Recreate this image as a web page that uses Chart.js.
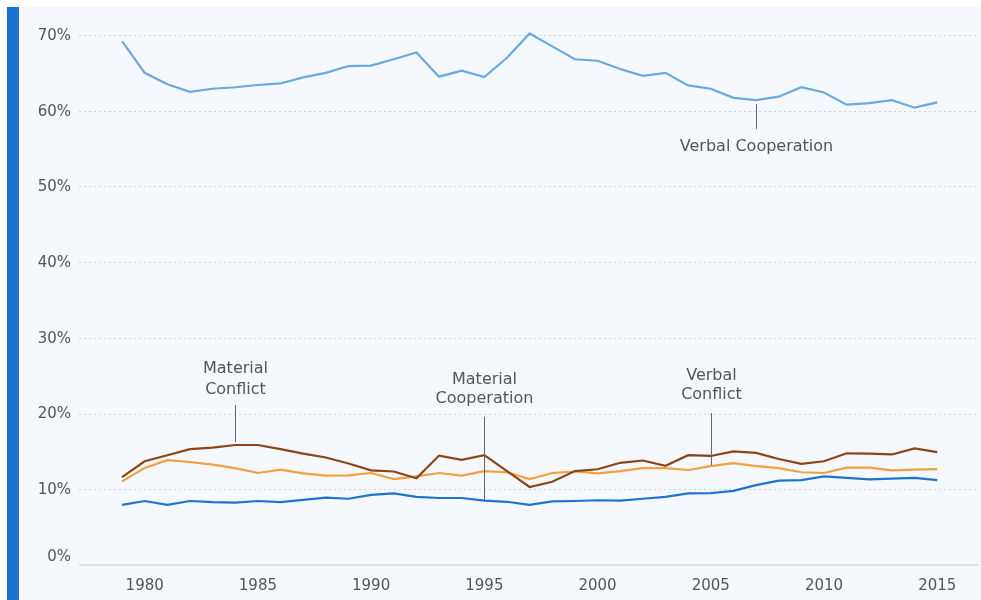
<!DOCTYPE html>
<html>
<head>
<meta charset="utf-8">
<script src="https://cdn.jsdelivr.net/npm/chart.js@4"></script>
<style>
  html, body { margin: 0; padding: 0; background: #fff; }
  #panel {
    position: absolute; left: 7px; top: 7px;
    width: 962px; height: 593px;
    background: #f5f8fc;
    border-left: 12px solid #1a73d0;
  }
</style>
</head>
<body>
<div id="panel"><canvas id="eventChart"></canvas></div>
<script>
const years = [];
for (let y = 1979; y <= 2015; y++) years.push(y);

// shares of events per year, in %
const verbalCooperation = [69.2, 65.0, 63.5, 62.5, 62.9, 63.1, 63.4, 63.6, 64.4, 65.0,
  65.9, 65.95, 66.8, 67.7, 64.5, 65.3, 64.45, 67.0, 70.2, 68.5,
  66.8, 66.6, 65.5, 64.6, 65.0, 63.35, 62.9, 61.7, 61.4, 61.85,
  63.1, 62.4, 60.8, 61.0, 61.4, 60.4, 61.1];
const materialConflict = [11.6, 13.7, 14.5, 15.3, 15.5, 15.85, 15.85, 15.3, 14.7, 14.2,
  13.4, 12.5, 12.35, 11.45, 14.45, 13.9, 14.5, 12.4, 10.3, 11.0,
  12.4, 12.65, 13.5, 13.8, 13.1, 14.5, 14.4, 15.0, 14.8, 14.0,
  13.35, 13.7, 14.75, 14.7, 14.6, 15.4, 14.9];
const verbalConflict = [11.05, 12.8, 13.85, 13.6, 13.25, 12.8, 12.15, 12.6, 12.1, 11.8,
  11.85, 12.15, 11.35, 11.7, 12.15, 11.8, 12.4, 12.25, 11.35, 12.15,
  12.35, 12.1, 12.4, 12.8, 12.8, 12.55, 13.05, 13.45, 13.05, 12.8,
  12.25, 12.15, 12.85, 12.85, 12.5, 12.6, 12.65];
const materialCooperation = [7.95, 8.45, 7.95, 8.45, 8.3, 8.25, 8.45, 8.3, 8.6, 8.9,
  8.75, 9.25, 9.45, 9.0, 8.85, 8.85, 8.5, 8.35, 7.95, 8.4,
  8.45, 8.55, 8.5, 8.75, 9.0, 9.45, 9.5, 9.8, 10.55, 11.15,
  11.2, 11.7, 11.5, 11.3, 11.4, 11.5, 11.2];

const series = [verbalCooperation, materialConflict, verbalConflict, materialCooperation];

const xTicks = [1980, 1985, 1990, 1995, 2000, 2005, 2010, 2015];
const yTicks = [0, 10, 20, 30, 40, 50, 60, 70];

// label callouts: series, year, connector from/to and text rows (px from the point)
const callouts = [
  { ds: 0, year: 2007, from: 4, to: 29, rows: [['Verbal Cooperation', 47]] },
  { ds: 1, year: 1984, from: -3, to: -40, rows: [['Material', -76], ['Conflict', -55]] },
  { ds: 3, year: 1995, from: 0, to: -84, rows: [['Material', -121], ['Cooperation', -102]] },
  { ds: 2, year: 2005, from: -1, to: -53, rows: [['Verbal', -90], ['Conflict', -71]] }
];

const textColor = '#555';
const tickFont = '15px "DejaVu Sans", sans-serif';
const noteFont = '16px "DejaVu Sans", sans-serif';

const axisLabels = {
  id: 'axisLabels',
  beforeDatasetsDraw(chart) {
    const { ctx, chartArea, scales: { x, y } } = chart;
    ctx.save();
    // dotted grid lines
    ctx.strokeStyle = '#cdd0d4';
    ctx.lineWidth = 1;
    ctx.setLineDash([2, 3]);
    yTicks.filter(v => v > 0).forEach(v => {
      const py = Math.round(y.getPixelForValue(v)) + 0.5;
      ctx.beginPath();
      ctx.moveTo(chartArea.left, py);
      ctx.lineTo(chartArea.right, py);
      ctx.stroke();
    });
    ctx.setLineDash([]);
    // solid baseline at 0%
    ctx.strokeStyle = '#d8d8d8';
    ctx.lineWidth = 1.5;
    ctx.beginPath();
    ctx.moveTo(chartArea.left, y.getPixelForValue(0));
    ctx.lineTo(chartArea.right, y.getPixelForValue(0));
    ctx.stroke();

    ctx.font = tickFont;
    ctx.fillStyle = textColor;
    ctx.textAlign = 'right';
    ctx.textBaseline = 'middle';
    yTicks.forEach(v => {
      const py = y.getPixelForValue(v) + (v === 0 ? -8 : 1);
      ctx.fillText(v + '%', chartArea.left - 8, py);
    });
    ctx.textAlign = 'center';
    xTicks.forEach(v => {
      ctx.fillText(String(v), x.getPixelForValue(v), chartArea.bottom + 21);
    });
    ctx.restore();
  },
  afterDatasetsDraw(chart) {
    const { ctx, scales: { x, y } } = chart;
    ctx.save();
    ctx.font = noteFont;
    ctx.fillStyle = textColor;
    ctx.strokeStyle = '#666';
    ctx.lineWidth = 1;
    ctx.textAlign = 'center';
    ctx.textBaseline = 'middle';
    callouts.forEach(c => {
      const i = years.indexOf(c.year);
      const px = Math.round(x.getPixelForValue(c.year)) + 0.5;
      const py = y.getPixelForValue(series[c.ds][i]);
      ctx.beginPath();
      ctx.moveTo(px, py + c.from);
      ctx.lineTo(px, py + c.to);
      ctx.stroke();
      c.rows.forEach(([t, dy]) => ctx.fillText(t, px, py + dy));
    });
    ctx.restore();
  }
};

const ctx = document.getElementById('eventChart').getContext('2d');
const eventChart = new Chart(ctx, {
  type: 'line',
  data: {
    labels: years,
    datasets: [
      { label: 'Verbal Cooperation', data: verbalCooperation, borderColor: '#67aae3' },
      { label: 'Material Conflict', data: materialConflict, borderColor: '#8b4516' },
      { label: 'Verbal Conflict', data: verbalConflict, borderColor: '#f4a040' },
      { label: 'Material Cooperation', data: materialCooperation, borderColor: '#1f74d2' }
    ].map(d => ({
      ...d,
      data: d.data.map((v, i) => ({ x: years[i], y: v })),
      borderWidth: 2.2,
      pointRadius: 0,
      tension: 0,
      fill: false,
      clip: false
    }))
  },
  options: {
    responsive: true,
    maintainAspectRatio: false,
    animation: false,
    layout: { padding: { left: 60, right: 3, top: 28, bottom: 35 } },
    plugins: { legend: { display: false }, tooltip: { enabled: false } },
    scales: {
      x: {
        type: 'linear',
        min: 1977.1,
        max: 2016.8,
        grid: { display: false, drawTicks: false },
        border: { display: false },
        ticks: { display: false }
      },
      y: {
        min: 0,
        max: 70,
        grid: { display: false, drawTicks: false },
        border: { display: false },
        ticks: { display: false }
      }
    }
  },
  plugins: [axisLabels]
});
</script>
</body>
</html>
